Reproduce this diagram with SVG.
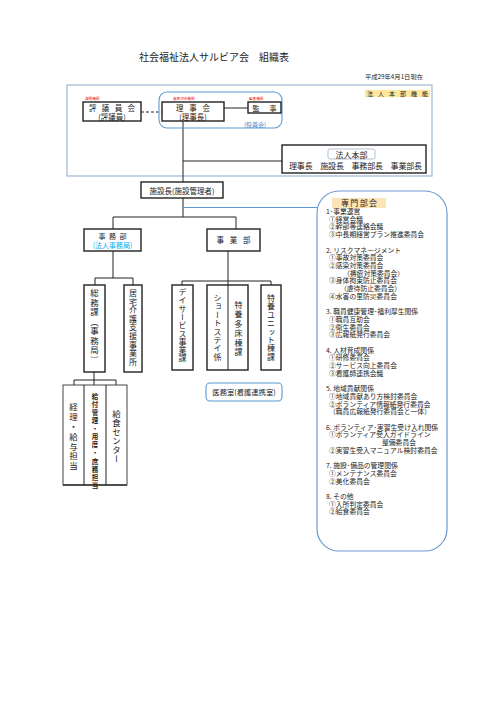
<svg xmlns="http://www.w3.org/2000/svg" width="500" height="707" viewBox="0 0 500 707">
<style>
text{font-family:"Noto Sans CJK JP","Noto Sans CJK SC",sans-serif;fill:#222}
.box{fill:#fff;stroke:#222;stroke-width:1.4}
.ln{stroke:#222;stroke-width:1;fill:none}
.red{fill:#e00;font-size:3.6px}
.v{writing-mode:vertical-rl;font-size:8px}
.c{text-anchor:middle}
.item{font-size:6.8px}
</style>
<rect width="500" height="707" fill="#fff"/>
<text x="214" y="61" class="c" style="font-size:10px">社会福祉法人サルビア会　組織表</text>
<text x="365" y="79" style="font-size:5.5px" textLength="58" lengthAdjust="spacingAndGlyphs">平成29年4月1日現在</text>

<g id="frame">
<rect x="67" y="85" width="365" height="91" fill="none" stroke="#9fb6cf" stroke-width="1.2"/>
<rect x="365" y="90" width="65" height="7" fill="#ffe699"/>
<text x="367" y="96" style="font-size:6px" textLength="61" lengthAdjust="spacing">法人本部機能</text>
</g>

<g id="connectors">
<line class="ln" x1="183" y1="121" x2="183" y2="182"/>
<line class="ln" x1="183" y1="161" x2="282" y2="161"/>
<line class="ln" x1="141" y1="112" x2="162" y2="112" stroke-dasharray="3,2"/>
<line class="ln" x1="224" y1="108" x2="248" y2="108"/>
<line class="ln" x1="183" y1="198" x2="183" y2="217"/>
<line x1="183" y1="207.5" x2="317" y2="207.5" stroke="#5b9bd5" stroke-width="1.2"/>
<polyline class="ln" points="113,229 113,217 236,217 236,229"/>
<line class="ln" x1="113" y1="251" x2="113" y2="278"/>
<polyline class="ln" points="95,285 95,278 133,278 133,285"/>
<line class="ln" x1="228" y1="251" x2="228" y2="370"/>
<polyline class="ln" points="182,285 182,281 271,281 271,285"/>
<line class="ln" x1="94" y1="372" x2="94" y2="385"/>
<polyline class="ln" points="74,385 74,380 116,380 116,385"/>
</g>

<g id="yakuinkai">
<rect x="159" y="92" width="123" height="36" rx="8" fill="none" stroke="#5b9bd5" stroke-width="1.1"/>
<text x="255" y="127" class="c" style="font-size:6px;fill:#4a86c8">(役員会)</text>
</g>

<g id="hyogiinkai">
<rect class="box" x="83" y="102" width="58" height="19"/>
<text x="85" y="100" class="red">諮問機関</text>
<text x="112" y="110.5" class="c" style="font-size:7.5px" textLength="46" lengthAdjust="spacing">評議員会</text>
<text x="112" y="119.5" class="c" style="font-size:7.5px">(評議員)</text>
</g>

<g id="rijikai">
<rect class="box" x="162" y="102" width="62" height="19"/>
<text x="173" y="100" class="red">意思決定機関</text>
<text x="193" y="110.5" class="c" style="font-size:7.5px" textLength="34" lengthAdjust="spacing">理事会</text>
<text x="193" y="119.5" class="c" style="font-size:7.5px">(理事長)</text>
</g>

<g id="kanji">
<rect class="box" x="248" y="102" width="33" height="11"/>
<text x="249" y="100" class="red">監査機関</text>
<text x="264.5" y="110.5" class="c" style="font-size:7px" textLength="24" lengthAdjust="spacing">監事</text>
</g>

<g id="honbu">
<rect class="box" x="282" y="145" width="144" height="28"/>
<rect x="328" y="149" width="47" height="10" rx="2" fill="#fff" stroke="#9fb0c8" stroke-width="0.8"/>
<text x="351.5" y="157.5" class="c" style="font-size:8px">法人本部</text>
<text x="289" y="169" style="font-size:8px" textLength="133" lengthAdjust="spacing">理事長　施設長　事務部長　事業部長</text>
</g>

<g id="shisetsucho">
<rect class="box" x="141" y="182" width="82" height="16"/>
<text x="182" y="193.5" class="c" style="font-size:7.5px">施設長(施設管理者)</text>
</g>

<g id="jimubu">
<rect class="box" x="84" y="229" width="57" height="22"/>
<text x="112.5" y="238.5" class="c" style="font-size:7px" textLength="28" lengthAdjust="spacing">事務部</text>
<text x="112.5" y="247.5" class="c" style="font-size:7px;fill:#00b0f0">(法人事務局)</text>
</g>

<g id="jigyobu">
<rect class="box" x="207" y="229" width="53" height="22"/>
<text x="233.5" y="243" class="c" style="font-size:7.5px" textLength="34" lengthAdjust="spacing">事業部</text>
</g>

<g id="somuka">
<rect class="box" x="84" y="285" width="21" height="87"/>
<text x="94.5" y="289" class="v" style="font-size:8.5px;letter-spacing:1px">総務課（事務局）</text>
</g>
<g id="kyotaku">
<rect class="box" x="124" y="285" width="18" height="87"/>
<text x="133" y="289" class="v" style="letter-spacing:0.6px">居宅介護支援事業所</text>
</g>
<g id="day">
<rect class="box" x="172" y="285" width="21" height="85"/>
<text x="182.5" y="288" class="v" style="letter-spacing:0.3px">デイサービス事業課</text>
</g>
<g id="short">
<rect class="box" x="207" y="285" width="41" height="85"/>
<line class="ln" x1="228" y1="285" x2="228" y2="370"/>
<text x="217.5" y="294" class="v" style="letter-spacing:0.4px">ショートステイ係</text>
<text x="238.5" y="301" class="v" style="letter-spacing:1.4px">特養多床棟課</text>
</g>
<g id="unit">
<rect class="box" x="261" y="285" width="20" height="85"/>
<text x="271" y="294" class="v" style="letter-spacing:0.4px">特養ユニット棟課</text>
</g>

<g id="somu-children">
<rect x="63" y="385" width="64" height="100" fill="#fff" stroke="#444" stroke-width="1"/>
<line x1="63" y1="485" x2="127" y2="485" stroke="#333" stroke-width="1.6"/>
<line class="ln" x1="84" y1="385" x2="84" y2="485" stroke="#444"/>
<line class="ln" x1="106" y1="385" x2="106" y2="485" stroke="#444"/>
<text x="73.5" y="403" class="v" style="font-size:8.5px;letter-spacing:1.3px">経理・給与担当</text>
<text x="95" y="393" class="v" style="font-size:6.5px;letter-spacing:1.6px;font-weight:bold">給付管理・用度・庶務担当</text>
<text x="116.5" y="410" class="v" style="font-size:8.5px;letter-spacing:0.5px">給食センター</text>
</g>

<g id="imushitsu">
<rect x="206" y="383" width="76" height="18" rx="4" fill="#fff" stroke="#5b9bd5" stroke-width="1.1"/>
<text x="244" y="395" class="c" style="font-size:7.3px">医務室(看護連携室)</text>
</g>

<g id="senmon">
<rect x="317" y="191" width="130" height="360" rx="22" fill="#fff" stroke="#6c9bd2" stroke-width="1.2"/>
<rect x="332" y="198" width="54" height="10" fill="#fce4b6"/>
<text x="359" y="206" class="c" style="font-size:8px" textLength="36" lengthAdjust="spacing">専門部会</text>
<g class="item">
<text x="326" y="214">1･事業運営</text>
<text x="329" y="221.7">①経営会議</text>
<text x="329" y="229.4">②幹部等連絡会議</text>
<text x="329" y="237.1">③中長期経営プラン推進委員会</text>
<text x="326" y="252.5">2. リスクマネージメント</text>
<text x="329" y="260.2">①事故対策委員会</text>
<text x="329" y="267.9">②感染対策委員会</text>
<text x="343" y="275.6">（褥瘡対策委員会）</text>
<text x="329" y="283.3">③身体拘束防止委員会</text>
<text x="340" y="291">（虐待防止委員会）</text>
<text x="329" y="298.7">④水害の里防災委員会</text>
<text x="326" y="314.1">3. 職員健康管理･福利厚生関係</text>
<text x="329" y="321.8">①職員互助会</text>
<text x="329" y="329.5">②衛生委員会</text>
<text x="329" y="337.2">③広報紙発行委員会</text>
<text x="326" y="352.6">4. 人材育成関係</text>
<text x="329" y="360.3">①研修委員会</text>
<text x="329" y="368">②サービス向上委員会</text>
<text x="329" y="375.7">③看護師連携会議</text>
<text x="326" y="391.1">5. 地域貢献関係</text>
<text x="329" y="398.8">①地域貢献あり方検討委員会</text>
<text x="329" y="406.5">②ボランティア情報紙発行委員会</text>
<text x="329" y="414.2">（職員広報紙発行委員会と一体）</text>
<text x="326" y="429.6">6. ボランティア･実習生受け入れ関係</text>
<text x="329" y="437.3">①ボランティア受入ガイドライン</text>
<text x="382" y="445">整備委員会</text>
<text x="329" y="452.7">②実習生受入マニュアル検討委員会</text>
<text x="326" y="468.1">7. 施設･備品の管理関係</text>
<text x="329" y="475.8">①メンテナンス委員会</text>
<text x="329" y="483.5">②美化委員会</text>
<text x="326" y="498.9">8. その他</text>
<text x="329" y="506.6">①入所判定委員会</text>
<text x="329" y="514.3">②給食委員会</text>
</g>
</g>
</svg>
